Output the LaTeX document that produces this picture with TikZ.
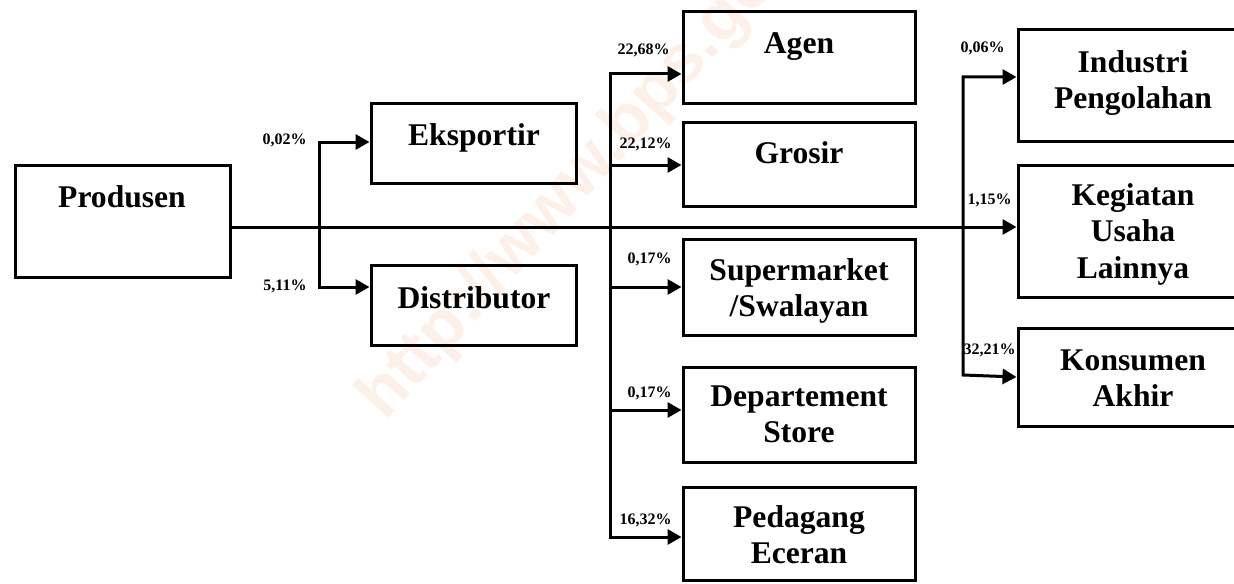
\documentclass[tikz,border=0pt]{standalone}
\usepackage{fontspec}
\setmainfont{Liberation Serif}
\newfontfamily\wmfont{Liberation Sans}
\usetikzlibrary{arrows.meta,calc}
\definecolor{wmark}{RGB}{253,240,232}
\newcommand{\boxfont}{\fontsize{15.8}{18.2}\selectfont\bfseries}
\newcommand{\pctfont}{\fontsize{8}{9.6}\selectfont\bfseries}
\newcommand{\topline}{\rule{0pt}{11pt}}

\begin{document}
\begin{tikzpicture}[x=0.5pt,y=-0.5pt,
  box/.style={draw, line width=1.5pt, rectangle, inner sep=0pt},
  lbl/.style={anchor=north, align=center, inner sep=0pt, font=\boxfont},
  pct/.style={anchor=base east, inner sep=0pt, font=\pctfont},
  flow/.style={line width=1.5pt, -{Triangle[length=7pt,width=7.5pt]}},
  flowboth/.style={line width=1.5pt, {Triangle[length=7pt,width=7.5pt]}-{Triangle[length=7pt,width=7.5pt]}}]

\path[use as bounding box, clip] (0,0) rectangle (1234,583);

% faint diagonal site stamp behind the chart
\node[rotate=48, anchor=base west, text=wmark, inner sep=0pt,
      font=\wmfont\fontsize{34}{40}\selectfont\bfseries] (stamp) at (385,422) {http://www.bps.go.id};

% boxes
\node[box, minimum width=107.5pt, minimum height=56pt] (prod) at (122.5,221) {};
\node[box, minimum width=102.5pt, minimum height=40pt] (eks)  at (473.5,143) {};
\node[box, minimum width=102.5pt, minimum height=40pt] (dis)  at (473.5,305) {};

\node[box, minimum width=116pt, minimum height=45.5pt] (agen) at (799,57.5) {};
\node[box, minimum width=116pt, minimum height=42pt]   (gros) at (799,164) {};
\node[box, minimum width=116pt, minimum height=48pt]   (sup)  at (799,287) {};
\node[box, minimum width=116pt, minimum height=47.5pt] (dept) at (799,414.5) {};
\node[box, minimum width=116pt, minimum height=46.5pt] (ped)  at (799,533.5) {};

\node[box, minimum width=116pt, minimum height=55.5pt] (ind)  at (1134,85.5) {};
\node[box, minimum width=116pt, minimum height=66pt]   (keg)  at (1134,231) {};
\node[box, minimum width=116pt, minimum height=49pt]   (kon)  at (1134,377) {};

% box texts
\node[lbl] (tprod) at (122,185) {\topline Produsen};
\node[lbl] (teks)  at (474,123) {\topline Eksportir};
\node[lbl] (tdis)  at (474,286) {\topline Distributor};
\node[lbl] (tagen) at (799,31)  {\topline Agen};
\node[lbl] (tgros) at (799,141) {\topline Grosir};
\node[lbl] (tsup)  at (799,258) {\topline Supermarket\\/Swalayan};
\node[lbl] (tdept) at (799,384) {\topline Departement\\Store};
\node[lbl] (tped)  at (799,505) {\topline Pedagang\\Eceran};
\node[lbl] (tind)  at (1133,50)  {\topline Industri\\Pengolahan};
\node[lbl] (tkeg)  at (1133,183) {\topline Kegiatan\\Usaha\\Lainnya};
\node[lbl] (tkon)  at (1133,348) {\topline Konsumen\\Akhir};

% bus lines
\coordinate (b1t) at (319,142);
\coordinate (b1b) at (319,287);
\coordinate (b2t) at (610,74);
\coordinate (b2b) at (610,537);
\coordinate (b3t) at (963,77);
\coordinate (b3b) at (963,375);

% main line from Produsen
\draw[flow] ($(prod.east)+(0,6)$) -- (keg.west |- {$(prod.east)+(0,6)$});

% first split
\draw[flowboth] (eks.west |- b1t) -- (b1t) -- (b1b) -- (dis.west |- b1b);

% second split
\draw[flowboth] (agen.west |- b2t) -- (b2t) -- (b2b) -- (ped.west |- b2b);
\draw[flow] (b2t |- 0,165) -- (gros.west |- 0,165);
\draw[flow] (b2t |- sup.west) -- (sup.west);
\draw[flow] (b2t |- 0,410) -- (dept.west |- 0,410);

% third split
\draw[flowboth] (ind.west |- b3t) -- (b3t) -- (b3b) -- (kon.west);

% shares
\node[pct] (p1) at (307,144) {0,02\%};
\node[pct] (p2) at (307,290) {5,11\%};
\node[pct] (p3) at (670,55)  {22,68\%};
\node[pct] (p4) at (672,148) {22,12\%};
\node[pct] (p5) at (672,263) {0,17\%};
\node[pct] (p6) at (672,397) {0,17\%};
\node[pct] (p7) at (672,524) {16,32\%};
\node[pct] (p8) at (1005,53) {0,06\%};
\node[pct] (p9) at (1012,204) {1,15\%};
\node[pct] (p10) at (1016,354) {32,21\%};
\end{tikzpicture}
\end{document}
